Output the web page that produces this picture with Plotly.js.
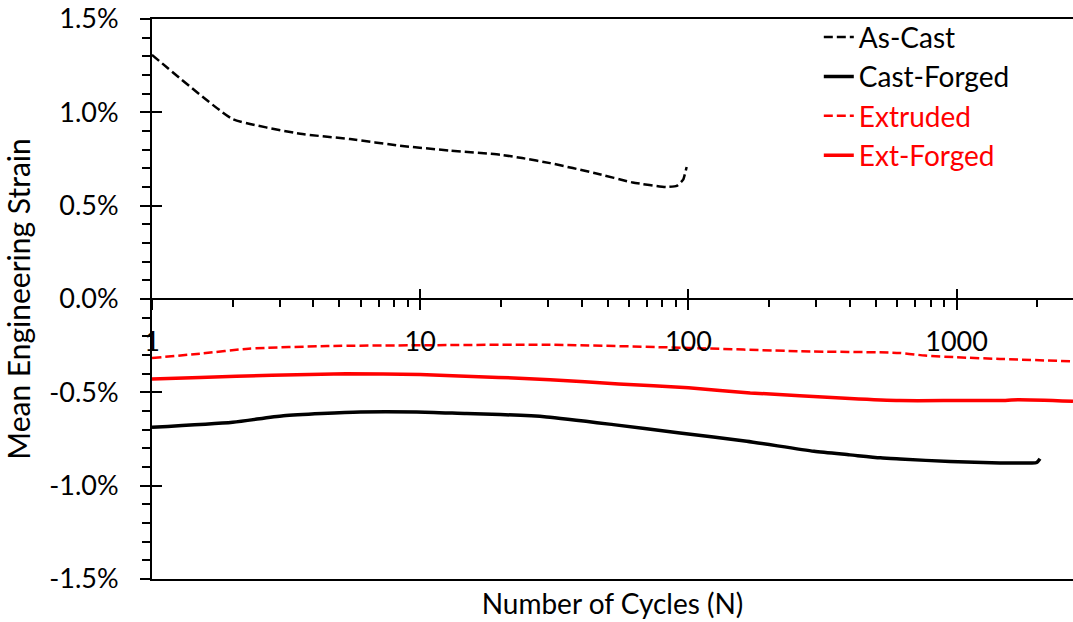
<!DOCTYPE html>
<html>
<head>
<meta charset="utf-8">
<script src="https://cdn.plot.ly/plotly-3.0.1.min.js"></script>
<style>html,body{margin:0;padding:0;background:#fff;}#chart{width:1073px;height:622px;}</style>
</head>
<body>
<div id="chart"></div>
<script>
// ---- data (strain as fraction) ----
const asCastN      = [1, 2, 3.57, 5.48, 8.4, 12.9, 19.9, 24, 30.5, 45, 62, 83, 90.5, 95.6, 98.5];
const asCastStrain = [0.01308, 0.00964, 0.00885, 0.00857, 0.00821, 0.00795, 0.00773, 0.00755, 0.00728, 0.00674, 0.00624, 0.00600, 0.00606, 0.00639, 0.00707];

const castForgedN      = [1, 2, 3.09, 5.98, 9.7, 14.9, 19.9, 29.6, 52.5, 93, 165, 294, 400, 520, 615, 945, 1452, 1879, 1990, 2046];
const castForgedStrain = [-0.00687, -0.00660, -0.00625, -0.00605, -0.00605, -0.00614, -0.00619, -0.00632, -0.00673, -0.00718, -0.00762, -0.00816, -0.00835, -0.00851, -0.00857, -0.00871, -0.00878, -0.00878, -0.00876, -0.00856];

const extrudedN      = [1, 1.51, 2.29, 4.5, 10, 30.5, 100, 261, 615, 762, 1000, 1452, 2716];
const extrudedStrain = [-0.00316, -0.00293, -0.00266, -0.00252, -0.00248, -0.00245, -0.00262, -0.00280, -0.00289, -0.00303, -0.00312, -0.00321, -0.00334];

const extForgedN      = [1, 1.51, 2.8, 5.3, 10, 19.6, 30.5, 55, 100, 170, 400, 615, 1000, 1452, 1700, 2716];
const extForgedStrain = [-0.00428, -0.00420, -0.00409, -0.00401, -0.00405, -0.00420, -0.00432, -0.00455, -0.00476, -0.00503, -0.00533, -0.00544, -0.00544, -0.00544, -0.00540, -0.00548];

const seriesNames = ['As-Cast', 'Cast-Forged', 'Extruded', 'Ext-Forged'];

// ---- tick labels ----
const xTickVals = [1, 10, 100, 1000];
const xTickText = ['1', '10', '100', '1000'];
const xMinorVals = [2,3,4,5,6,7,8,9,20,30,40,50,60,70,80,90,200,300,400,500,600,700,800,900,2000];
const yTickVals = [-0.015, -0.01, -0.005, 0, 0.005, 0.01, 0.015];
const yTickText = ['-1.5%', '-1.0%', '-0.5%', '0.0%', '0.5%', '1.0%', '1.5%'];

const FONT = 'Lato, "Open Sans", sans-serif';
const xRange = [0, 3.434];
const yRange = [-0.015, 0.015];

const traces = [
  {x: asCastN, y: asCastStrain, name: seriesNames[0], mode: 'lines', line: {color: '#000000', width: 2.5, dash: '9px,4px', shape: 'spline', smoothing: 0.4}},
  {x: castForgedN, y: castForgedStrain, name: seriesNames[1], mode: 'lines', line: {color: '#000000', width: 3.5, shape: 'spline', smoothing: 0.6}},
  {x: extrudedN, y: extrudedStrain, name: '<span style="color:#ff0000">' + seriesNames[2] + '</span>', mode: 'lines', line: {color: '#ff0000', width: 2.5, dash: '9px,4px', shape: 'spline', smoothing: 0.6}},
  {x: extForgedN, y: extForgedStrain, name: '<span style="color:#ff0000">' + seriesNames[3] + '</span>', mode: 'lines', line: {color: '#ff0000', width: 3.5, shape: 'spline', smoothing: 0.6}}
];

const layout = {
  width: 1073, height: 622,
  margin: {l: 152, r: 0, t: 19, b: 43, pad: 0},
  paper_bgcolor: '#ffffff', plot_bgcolor: '#ffffff',
  font: {family: FONT, color: '#000000', size: 24},
  showlegend: true,
  legend: {x: 0.724, xanchor: 'left', y: 1.012, yanchor: 'top', bgcolor: 'rgba(0,0,0,0)', font: {size: 28, family: FONT}, tracegroupgap: 0},
  xaxis: {
    type: 'log', range: xRange, showline: true, linecolor: '#000', linewidth: 2, mirror: true,
    ticks: '', showticklabels: false, showgrid: false, zeroline: false,
    title: {text: 'Number of Cycles (N)', font: {size: 28, family: FONT}, standoff: 14}
  },
  xaxis2: {
    type: 'log', range: xRange, overlaying: 'x', anchor: 'free', position: 0.5,
    showline: true, linecolor: '#000', linewidth: 2, showgrid: false, zeroline: false,
    ticks: 'outside', ticklen: 10, tickwidth: 2, tickcolor: '#000',
    tickmode: 'array', tickvals: xTickVals, ticktext: xTickText,
    tickfont: {size: 27, family: FONT}, ticklabelstandoff: 9,
    minor: {ticks: 'outside', ticklen: 7, tickwidth: 2, tickcolor: '#000', tickmode: 'array', tickvals: xMinorVals}
  },
  xaxis3: {
    type: 'log', range: xRange, overlaying: 'x', anchor: 'free', position: 0.5,
    showline: false, showgrid: false, zeroline: false, showticklabels: false,
    ticks: 'inside', ticklen: 10, tickwidth: 2, tickcolor: '#000',
    tickmode: 'array', tickvals: xTickVals
  },
  yaxis: {
    range: yRange, showline: true, linecolor: '#000', linewidth: 2, showgrid: false, zeroline: false,
    ticks: 'outside', ticklen: 10, tickwidth: 2, tickcolor: '#000',
    tickmode: 'array', tickvals: yTickVals, ticktext: yTickText,
    tickfont: {size: 27, family: FONT}, ticklabelstandoff: 16,
    minor: {ticks: 'outside', ticklen: 8, tickwidth: 2, tickcolor: '#000', dtick: 0.001},
    title: {text: 'Mean Engineering Strain', font: {size: 30, family: FONT}, standoff: 10}
  },
  yaxis2: {
    range: yRange, overlaying: 'y', side: 'left', showline: false, showgrid: false, zeroline: false,
    showticklabels: false, ticks: 'inside', ticklen: 10, tickwidth: 2, tickcolor: '#000',
    tickmode: 'array', tickvals: yTickVals
  }
};

// invisible helper traces that activate the overlay axes
const axisTraces = [
  {x: [1], y: [0], xaxis: 'x2', yaxis: 'y', mode: 'markers', marker: {opacity: 0}, showlegend: false, hoverinfo: 'skip'},
  {x: [1], y: [0], xaxis: 'x3', yaxis: 'y2', mode: 'markers', marker: {opacity: 0}, showlegend: false, hoverinfo: 'skip'}
];

Plotly.newPlot('chart', traces.concat(axisTraces), layout, {staticPlot: true, displayModeBar: false});
</script>
</body>
</html>
